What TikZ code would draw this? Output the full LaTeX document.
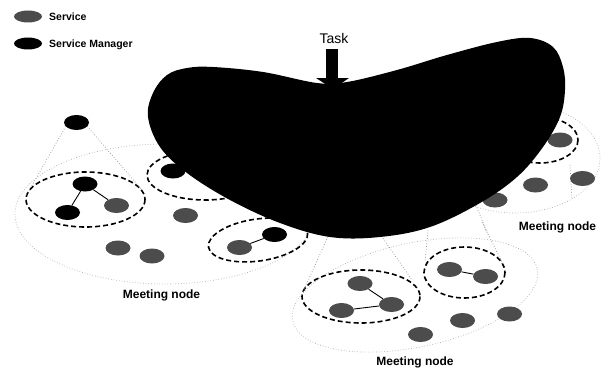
\documentclass[tikz,border=0pt]{standalone}
\usepackage{fontspec}
\setmainfont{Liberation Sans}
\usetikzlibrary{shapes.geometric}
\begin{document}
\begin{tikzpicture}[x=1pt,y=-1pt,
  svc/.style={ellipse, draw=none, fill=black!70, minimum width=25pt, minimum height=15pt, inner sep=0pt},
  mgr/.style={svc, fill=black},
  legsvc/.style={svc, minimum width=28pt, minimum height=12pt},
  grp/.style={draw=black, line width=1.6pt, dash pattern=on 5pt off 3pt},
  region/.style={draw=black!32, line width=0.7pt, dotted},
  cone/.style={draw=black!45, line width=0.7pt, dotted},
  link/.style={draw=black, line width=0.9pt},
  lbl/.style={font=\bfseries\fontsize{12}{14}\selectfont, inner sep=0pt},
  leg/.style={font=\bfseries\fontsize{10.5}{12}\selectfont, inner sep=0pt, anchor=west}
]
\useasboundingbox (0,0) rectangle (604,369);
\fill[white] (0,0) rectangle (604,369);

% meeting-node regions
\draw[region] (165,214) ellipse [x radius=150, y radius=70];
\draw[region, rotate around={12:(415,295)}] (415,295) ellipse [x radius=125, y radius=52];
\draw[region] (515,158) ellipse [x radius=85, y radius=55];

% group ellipses
\draw[grp] (85.5,199.5) ellipse [x radius=59.5, y radius=27.5];
\draw[grp] (205,175) ellipse [x radius=58, y radius=25];
\draw[grp, rotate around={8:(258,240)}] (258,240) ellipse [x radius=50, y radius=21];
\draw[grp] (361,296.5) ellipse [x radius=59, y radius=26.5];
\draw[grp] (464.5,272.5) ellipse [x radius=40.5, y radius=25.5];
\draw[grp] (540,140) ellipse [x radius=38, y radius=23];

% left group
\node[mgr] (m1) at (76.5,122.5) {};
\coordinate (t1) at (26,196);
\coordinate (t2) at (142,190);
\draw[cone] (m1.200) -- (t1);
\draw[cone] (m1.-20) -- (t2);
\node[mgr] (a1) at (85,184) {};
\node[mgr] (a2) at (67.5,212.5) {};
\node[svc] (a3) at (116.5,205.5) {};
\draw[link] (a1) -- (a2);
\draw[link] (a1) -- (a3);
\node[svc] (a4) at (185.5,215.5) {};
\node[svc] (a5) at (118,248) {};
\node[svc] (a6) at (152,256) {};

% second group (mostly hidden)
\node[mgr] (b1) at (173,171) {};

% third group
\node[svc] (c1) at (239.5,247.5) {};
\node[mgr] (c2) at (274.5,234.5) {};
\draw[link] (c1) -- (c2);

% bottom group
\coordinate (u1) at (330,232);
\coordinate (u2) at (303,292);
\coordinate (u3) at (380,234);
\coordinate (u4) at (412,280);
\coordinate (u5) at (428,230);
\coordinate (u6) at (425,262);
\coordinate (u7) at (482,222);
\coordinate (u8) at (503,264);
\draw[cone] (u1) -- (u2);
\draw[cone] (u3) -- (u4);
\draw[cone] (u5) -- (u6);
\draw[cone] (u7) -- (u8);
\node[svc] (d1) at (360,283.5) {};
\node[svc] (d2) at (391.5,304.5) {};
\node[svc] (d3) at (341.5,310.5) {};
\draw[link] (d1) -- (d2);
\draw[link] (d3) -- (d2);
\node[svc] (e1) at (449.5,269.5) {};
\node[svc] (e2) at (485.5,276.5) {};
\draw[link] (e1) -- (e2);
\node[svc] (f1) at (420.5,334.5) {};
\node[svc] (f2) at (462.5,320.5) {};
\node[svc] (f3) at (509.5,314) {};

% right group
\coordinate (r1) at (570,165);
\coordinate (r2) at (572,200);
\coordinate (r3) at (476,205);
\coordinate (r4) at (488,235);
\draw[cone] (r1) -- (r2);
\draw[cone] (r3) -- (r4);
\node[svc] (g1) at (560,140) {};
\node[svc] (g2) at (535.5,185) {};
\node[svc] (g3) at (582.5,178.5) {};
\node[svc] (g4) at (495,200) {};

% task blob
\fill[black] plot[smooth cycle, tension=0.6] coordinates {
  (148,117) (153,93) (167,75) (187,68) (213,67) (263,72) (317,83) (347,82)
  (397,70) (447,55) (497,42) (530,38) (553,47) (563,67) (565,90) (560,117)
  (543,147) (517,177) (480,203) (430,227) (380,237) (330,237) (280,223)
  (230,200) (187,173) (160,147)};

% task arrow
\fill[black] (326,49) rectangle (338,79);
\fill[black] (316,78) -- (349,78) -- (333,89) -- cycle;
\node[font=\fontsize{14}{16}\selectfont, inner sep=0pt] (task) at (334,38) {Task};

% labels
\node[lbl] (l1) at (161.5,295) {Meeting node};
\node[lbl] (l2) at (415,362) {Meeting node};
\node[lbl] (l3) at (557.5,227) {Meeting node};

% legend
\node[legsvc] (ls) at (28,16.5) {};
\node[leg] (lst) at (49,16.5) {Service};
\node[legsvc, fill=black] (lm) at (28,43.5) {};
\node[leg] (lmt) at (49,44.5) {Service Manager};
\end{tikzpicture}
\end{document}
